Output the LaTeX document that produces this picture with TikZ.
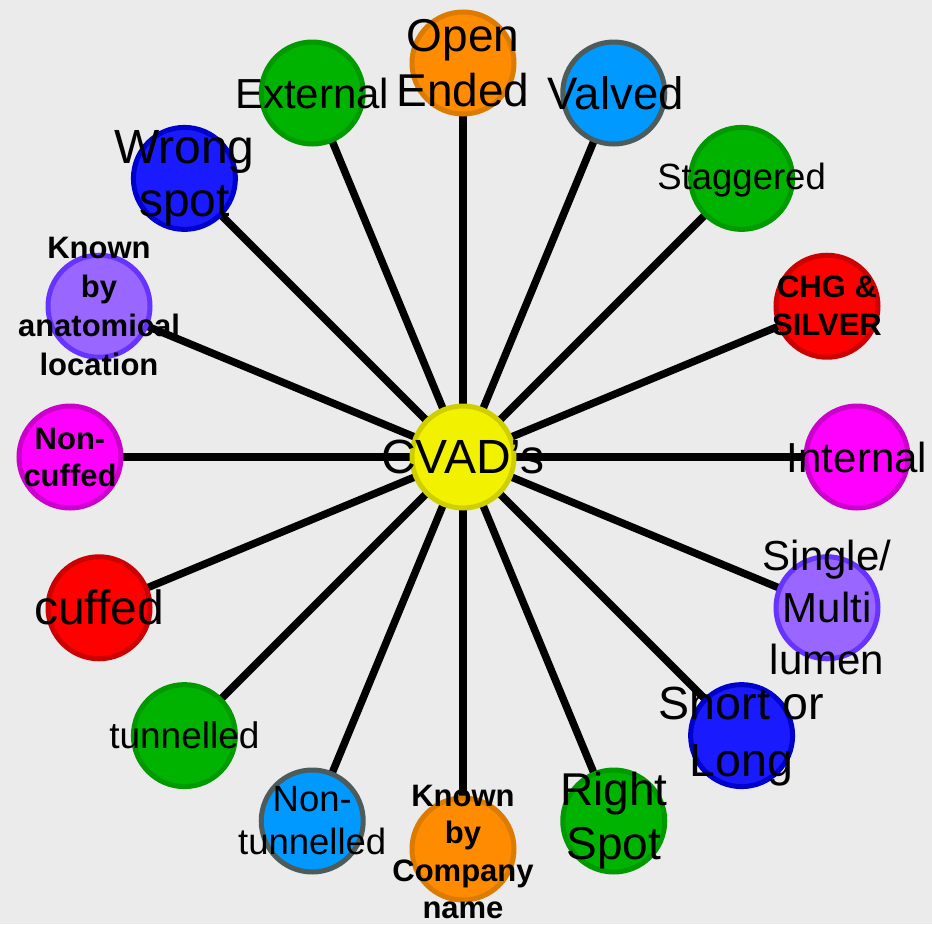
\documentclass[tikz,border=0pt]{standalone}
\usepackage{fontspec}
\setmainfont{Liberation Sans}
\definecolor{bgc}{HTML}{EBEBEB}
\definecolor{yelF}{HTML}{F2F200}\definecolor{yelB}{HTML}{CFCF00}
\definecolor{oraF}{HTML}{FF8C00}\definecolor{oraB}{HTML}{DD7A00}
\definecolor{lbuF}{HTML}{0099FF}\definecolor{lbuB}{HTML}{4D5B5B}
\definecolor{grnF}{HTML}{00B300}\definecolor{grnB}{HTML}{009900}
\definecolor{redF}{HTML}{FF0000}\definecolor{redB}{HTML}{CC0000}
\definecolor{magF}{HTML}{FF00FF}\definecolor{magB}{HTML}{CC00CC}
\definecolor{purF}{HTML}{9966FF}\definecolor{purB}{HTML}{6633FF}
\definecolor{dbuF}{HTML}{1A1AFF}\definecolor{dbuB}{HTML}{0000CC}
\begin{document}
\begin{tikzpicture}[x=1pt,y=1pt,
  conn/.style={line width=7.5pt, draw=black},
  bub/.style={circle, draw=#1B, fill=#1F, line width=5pt, minimum size=102pt, inner sep=0pt},
  lab/.style={align=center, inner sep=0pt, text=black},
]
\fill[bgc] (0,0) rectangle (932,-924);
\path[use as bounding box] (0,0) rectangle (932,-924);
\coordinate (c) at (463,-457);
\coordinate (p0) at ([shift={(0:394)}]c);
\coordinate (p1) at ([shift={(22.5:394)}]c);
\coordinate (p2) at ([shift={(45:394)}]c);
\coordinate (p3) at ([shift={(67.5:394)}]c);
\coordinate (p4) at ([shift={(90:394)}]c);
\coordinate (p5) at ([shift={(112.5:394)}]c);
\coordinate (p6) at ([shift={(135:394)}]c);
\coordinate (p7) at ([shift={(157.5:394)}]c);
\coordinate (p8) at ([shift={(180:393)}]c);
\coordinate (p9) at ([shift={(202.5:394)}]c);
\coordinate (p10) at ([shift={(225:394)}]c);
\coordinate (p11) at ([shift={(247.5:394)}]c);
\coordinate (p12) at ([shift={(270:392)}]c);
\coordinate (p13) at ([shift={(292.5:394)}]c);
\coordinate (p14) at ([shift={(315:394)}]c);
\coordinate (p15) at ([shift={(337.5:394)}]c);
\foreach \i in {0,...,15} { \draw[conn] (c) -- (p\i); }
\node[bub=yel] (cvad) at (c) {};
\node[bub=mag] (n0) at (p0) {};
\node[bub=red] (n1) at (p1) {};
\node[bub=grn] (n2) at (p2) {};
\node[bub=lbu] (n3) at (p3) {};
\node[bub=ora] (n4) at (p4) {};
\node[bub=grn] (n5) at (p5) {};
\node[bub=dbu] (n6) at (p6) {};
\node[bub=pur] (n7) at (p7) {};
\node[bub=mag] (n8) at (p8) {};
\node[bub=red] (n9) at (p9) {};
\node[bub=grn] (n10) at (p10) {};
\node[bub=lbu] (n11) at (p11) {};
\node[bub=ora] (n12) at (p12) {};
\node[bub=grn] (n13) at (p13) {};
\node[bub=dbu] (n14) at (p14) {};
\node[bub=pur] (n15) at (p15) {};
\node[lab, font={\fontsize{48}{56}\selectfont}] (tc) at (c) {CVAD’s};
\node[lab, font={\fontsize{42}{50}\selectfont}] (t0) at (p0) {Internal};
\node[lab, font={\fontsize{31}{38}\selectfont\bfseries}] (t1) at (p1) {CHG \&\\SILVER};
\node[lab, font={\fontsize{36.5}{43}\selectfont}] (t2) at ([yshift=-2]p2) {Staggered};
\node[lab, font={\fontsize{45.5}{52}\selectfont}] (t3) at ([xshift=2]p3) {Valved};
\node[lab, font={\fontsize{46}{55}\selectfont}] (t4) at (p4) {Open\\Ended};
\node[lab, font={\fontsize{42}{50}\selectfont}] (t5) at (p5) {External};
\node[lab, font={\fontsize{48}{53}\selectfont}] (t6) at (p6) {Wrong\\spot};
\node[lab, font={\fontsize{31}{39}\selectfont\bfseries}] (t7) at (p7) {Known\\by\\anatomical\\location};
\node[lab, font={\fontsize{31}{37}\selectfont\bfseries}] (t8) at (p8) {Non-\\cuffed};
\node[lab, font={\fontsize{48}{56}\selectfont}] (t9) at (p9) {cuffed};
\node[lab, font={\fontsize{37}{44}\selectfont}] (t10) at (p10) {tunnelled};
\node[lab, font={\fontsize{36.5}{43}\selectfont}] (t11) at (p11) {Non-\\tunnelled};
\node[lab, font={\fontsize{31}{37.5}\selectfont\bfseries}] (t12) at ([yshift=-3]p12) {Known\\by\\Company\\name};
\node[lab, font={\fontsize{46}{54}\selectfont}] (t13) at (p13) {Right\\Spot};
\node[lab, font={\fontsize{46.5}{57}\selectfont}] (t14) at (p14) {Short or\\Long};
\node[lab, font={\fontsize{42}{52}\selectfont}] (t15) at (p15) {Single/\\Multi\\lumen};
\end{tikzpicture}
\end{document}
